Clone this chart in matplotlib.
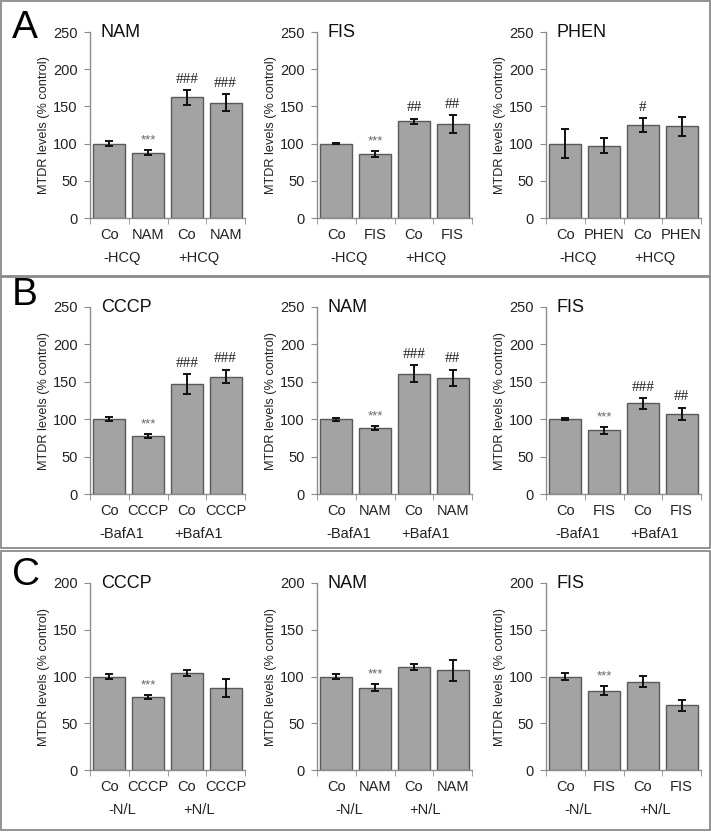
import numpy as np
import matplotlib.pyplot as plt
from matplotlib.patches import Rectangle

plt.rcParams['font.family'] = ['Liberation Sans', 'DejaVu Sans']

# panel A: -/+ HCQ
a_titles = ['NAM', 'FIS', 'PHEN']
a_cats = [['Co', 'NAM', 'Co', 'NAM'], ['Co', 'FIS', 'Co', 'FIS'], ['Co', 'PHEN', 'Co', 'PHEN']]
a_vals = [[100, 88, 162, 155], [100, 86, 130, 126], [100, 97, 125, 123]]
a_errs = [[3, 3, 10, 11], [1, 4, 3.5, 12], [19, 10, 9, 13]]
a_marks = [['', '***', '###', '###'], ['', '***', '##', '##'], ['', '', '#', '']]
a_groups = ['-HCQ', '+HCQ']

# panel B: -/+ BafA1
b_titles = ['CCCP', 'NAM', 'FIS']
b_cats = [['Co', 'CCCP', 'Co', 'CCCP'], ['Co', 'NAM', 'Co', 'NAM'], ['Co', 'FIS', 'Co', 'FIS']]
b_vals = [[100, 78, 147, 157], [100, 88, 161, 155], [100, 85, 121, 107]]
b_errs = [[3, 2.5, 13, 9], [2, 3, 11, 11], [1.5, 4.5, 7, 8]]
b_marks = [['', '***', '###', '###'], ['', '***', '###', '##'], ['', '***', '###', '##']]
b_groups = ['-BafA1', '+BafA1']

# panel C: -/+ N/L
c_titles = ['CCCP', 'NAM', 'FIS']
c_cats = [['Co', 'CCCP', 'Co', 'CCCP'], ['Co', 'NAM', 'Co', 'NAM'], ['Co', 'FIS', 'Co', 'FIS']]
c_vals = [[100, 78, 103.5, 88], [100, 88, 110, 106.5], [100, 85, 94.5, 69]]
c_errs = [[3, 2.5, 3, 9.5], [2.5, 3.5, 3, 11], [3.5, 4.5, 6, 6]]
c_marks = [['', '***', '', ''], ['', '***', '', ''], ['', '***', '', '']]
c_groups = ['-N/L', '+N/L']

W, H = 711, 832
fig = plt.figure(figsize=(W / 100, H / 100), dpi=100)

bar_col = '#a3a3a3'
edge_col = '#5a5a5a'
axis_col = '#8c8c8c'

rows = [
    ('A', a_titles, a_cats, a_vals, a_errs, a_marks, a_groups, 250, 32, 218, 28),
    ('B', b_titles, b_cats, b_vals, b_errs, b_marks, b_groups, 250, 307, 494, 295),
    ('C', c_titles, c_cats, c_vals, c_errs, c_marks, c_groups, 200, 583, 770, 575),
]
col_left = [90, 317, 546]
ax_w = 155

for letter, titles, cats, vals, errs, marks, groups, ymax, ytop, ybot, lety in rows:
    fig.text(12 / W, 1 - lety / H, letter, fontsize=28, ha='left', va='center')
    sc = ymax / 250
    for j in range(3):
        ax = fig.add_axes([col_left[j] / W, 1 - ybot / H, ax_w / W, (ybot - ytop) / H])
        x = np.arange(4)
        ax.bar(x, vals[j], width=0.83, color=bar_col, edgecolor=edge_col, linewidth=1.0, zorder=2)
        ax.errorbar(x, vals[j], yerr=errs[j], fmt='none', ecolor='#111111',
                    elinewidth=1.4, capsize=3, capthick=1.4, zorder=3)
        for k in range(4):
            top = vals[j][k] + errs[j][k]
            if marks[j][k] == '***':
                ax.text(k, top + 5 * sc, '***', ha='center', va='bottom', fontsize=9.5, color='#666666')
            elif marks[j][k]:
                ax.text(k, top + 6, marks[j][k], ha='center', va='bottom', fontsize=11,
                        color='#222222', family='Liberation Serif')
        ax.set_xlim(-0.5, 3.5)
        ax.set_ylim(0, ymax)
        ax.set_yticks(np.arange(0, ymax + 1, 50))
        ax.set_xticks(x)
        ax.set_xticklabels(cats[j])
        ax.set_xticks(np.arange(-0.5, 4, 1), minor=True)
        ax.tick_params(axis='x', which='major', length=0, pad=7, labelsize=10.5, colors='#222222')
        ax.tick_params(axis='x', which='minor', length=4, color=axis_col, direction='out')
        ax.tick_params(axis='y', length=4, color=axis_col, pad=5, labelsize=10.5, labelcolor='#222222')
        for s in ['top', 'right']:
            ax.spines[s].set_visible(False)
        for s in ['left', 'bottom']:
            ax.spines[s].set_color(axis_col)
            ax.spines[s].set_linewidth(1.0)
        ax.set_ylabel('MTDR levels (% control)', fontsize=9.2, labelpad=2, color='#222222')
        ax.text(0.07, 1.0, titles[j], transform=ax.transAxes, fontsize=13,
                ha='left', va='center', color='#111111')
        trans = ax.get_xaxis_transform()
        for g, gx in enumerate([0.33, 2.3]):
            ax.text(gx, -40 / (ybot - ytop), groups[g], transform=trans, ha='center',
                    va='center', fontsize=10.5, color='#222222')

# panel frames
for top, bot in [(1, 276), (277, 548), (551, 830)]:
    fig.patches.append(Rectangle((1 / W, 1 - bot / H), (W - 2) / W, (bot - top) / H,
                                 transform=fig.transFigure, fill=False,
                                 edgecolor='#8a8a8a', linewidth=1.3))

fig.savefig('out.png', dpi=100)
